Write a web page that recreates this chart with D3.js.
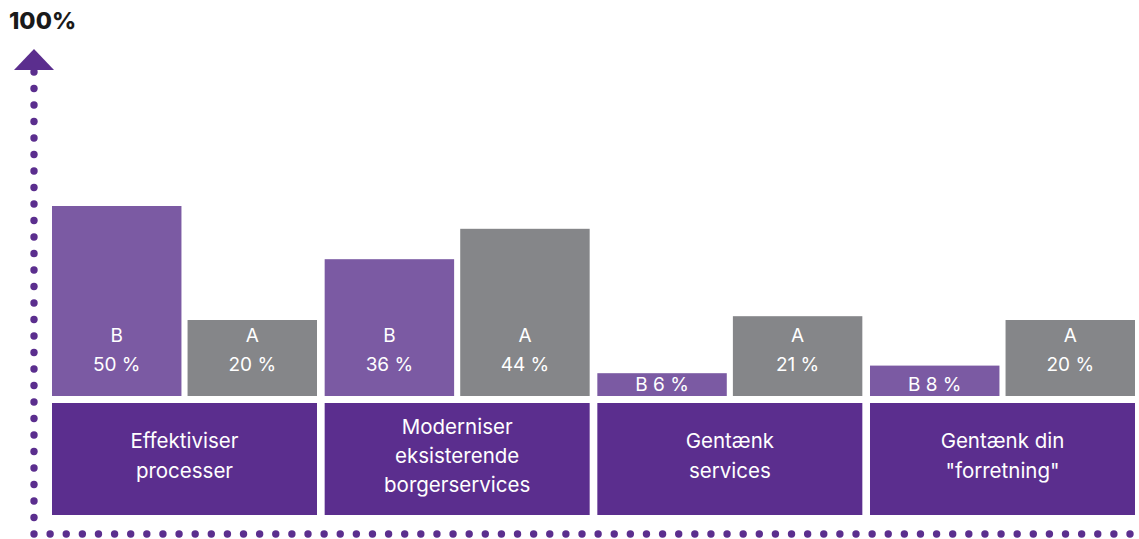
<!DOCTYPE html>
<html><head><meta charset="utf-8">
<script src="https://cdn.jsdelivr.net/npm/d3@7"></script>
<style>
html,body{margin:0;padding:0;background:#fff;}
svg{display:block;}
</style></head>
<body>
<svg id="chart" width="1139" height="539"></svg>
<script>
const categories = ["Effektiviser\nprocesser", "Moderniser\neksisterende\nborgerservices", "Gentænk\nservices", "Gentænk din\n\"forretning\""];
const seriesNames = ["B", "A"];
const valuesB = [50, 36, 6, 8];
const valuesA = [20, 44, 21, 20];
const axisMaxLabel = "100%";

const colors = {B: "#7b5aa3", A: "#858689", cat: "#5b2e8e", axis: "#5b2e8e"};
const FONT = "Inter, 'Noto Sans', sans-serif";

const svg = d3.select("#chart");
const baseY = 396;
const y = d3.scaleLinear().domain([0, 100]).range([baseY, 16]);
const x0 = d3.scaleBand().domain(categories).range([52, 1135]).paddingInner(0.0281);
const x1 = d3.scaleBand().domain(seriesNames).range([0, x0.bandwidth()]).paddingInner(0.045);

const rows = categories.map((c, i) => ({cat: c, B: valuesB[i], A: valuesA[i]}));

// bars
const g = svg.append("g");
rows.forEach(r => {
  seriesNames.forEach(s => {
    const v = r[s];
    const bx = x0(r.cat) + x1(s);
    const by = y(v);
    g.append("rect").attr("x", bx).attr("y", by).attr("width", x1.bandwidth())
      .attr("height", baseY - by).attr("fill", colors[s]);
    const cx = bx + x1.bandwidth() / 2;
    const t = g.append("text").attr("text-anchor", "middle").attr("fill", "#fff")
      .attr("font-family", FONT).attr("font-size", 19).attr("font-weight", 400);
    if (baseY - by < 45) {
      t.attr("x", cx).attr("y", baseY - 5).text(s + " " + v + " %");
    } else {
      t.append("tspan").attr("x", cx).attr("y", baseY - 54).text(s);
      t.append("tspan").attr("x", cx).attr("y", baseY - 25).text(v + " %");
    }
  });
});

// category boxes
const catTop = 403, catBottom = 515;
rows.forEach(r => {
  svg.append("rect").attr("x", x0(r.cat)).attr("y", catTop).attr("width", x0.bandwidth())
    .attr("height", catBottom - catTop).attr("fill", colors.cat);
  const lines = r.cat.split("\n");
  const lh = 29.3;
  const cy = 456;
  const t = svg.append("text").attr("text-anchor", "middle").attr("fill", "#fff")
    .attr("font-family", FONT).attr("font-size", 20.5);
  lines.forEach((ln, k) => {
    t.append("tspan").attr("x", x0(r.cat) + x0.bandwidth() / 2)
      .attr("y", cy + (k - (lines.length - 1) / 2) * lh + 7).text(ln);
  });
});

// dotted axes
const axX = 34, axTop = 72, axBottom = 534;
const vCount = 28;
d3.range(vCount + 1).forEach(i => {
  svg.append("circle").attr("cx", axX).attr("cy", axTop + i * (axBottom - axTop) / vCount)
    .attr("r", 3.7).attr("fill", colors.axis);
});
const hEnd = 1130, hCount = 68;
d3.range(1, hCount + 1).forEach(i => {
  svg.append("circle").attr("cx", axX + i * (hEnd - axX) / hCount).attr("cy", axBottom)
    .attr("r", 3.7).attr("fill", colors.axis);
});
// arrow head
svg.append("path").attr("d", `M${axX - 20},70 L${axX},49 L${axX + 20},70 Z`).attr("fill", colors.axis);

// 100% label
svg.append("text").attr("x", 9).attr("y", 29).attr("font-family", FONT)
  .attr("font-weight", 800).attr("font-size", 23.5).attr("fill", "#1a1a1a").text(axisMaxLabel);
</script>
</body></html>
